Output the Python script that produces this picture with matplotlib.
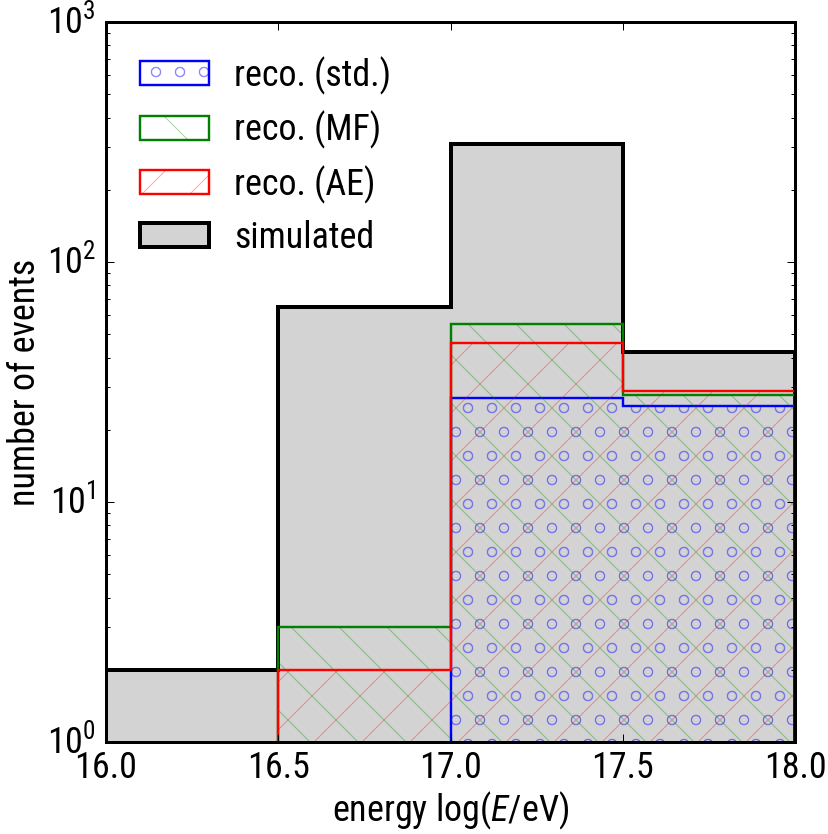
import numpy as np
import matplotlib
matplotlib.use('Agg')
from matplotlib import pyplot as plt
from matplotlib import font_manager

# bin edges in log10(E/eV)
edges = [16.0, 16.5, 17.0, 17.5, 18.0]

# number of events per bin
simulated = [2, 65, 310, 42]
reco_std = [0, 0, 27, 25]
reco_mf = [0, 3, 55, 28]
reco_ae = [0, 2, 46, 29]

# pick a narrow sans font that is actually there
fam = 'DejaVu Sans'
for cand in ['Liberation Sans Narrow', 'DejaVu Sans Condensed', 'Roboto Condensed', 'Roboto']:
    try:
        font_manager.findfont(cand, fallback_to_default=False)
        fam = cand
        break
    except ValueError:
        pass

# italic face for the E in the axis label
it_fam = fam
f = font_manager.findfont(font_manager.FontProperties(family=fam, style='italic'))
if 'italic' not in f.lower():
    it_fam = 'Roboto'

plt.style.use('classic')
plt.rcParams['font.family'] = [fam, 'DejaVu Sans']
plt.rcParams['mathtext.fontset'] = 'custom'
plt.rcParams['mathtext.rm'] = fam
plt.rcParams['mathtext.it'] = it_fam + ':italic'
plt.rcParams['mathtext.default'] = 'rm'
plt.rcParams['hatch.linewidth'] = 0.5
plt.rcParams['figure.facecolor'] = 'white'
plt.rcParams['savefig.facecolor'] = 'white'

fs = 18

fig = plt.figure(figsize=(828 / 144, 834 / 144), dpi=144)
ax = fig.add_axes([106 / 828, 1 - 742 / 834, 689 / 828, 720 / 834])
ax.set_yscale('log')

edges = np.array(edges)
ax.stairs(simulated, edges, fill=True, baseline=0.1,
          facecolor='lightgray', edgecolor='black', linewidth=2)

recos = [(reco_std, 'blue', 'o', 'reco. (std.)'),
         (reco_mf, 'green', '\\', 'reco. (MF)'),
         (reco_ae, 'red', '/', 'reco. (AE)')]

handles = []
labels = []
for vals, col, hat, lab in recos:
    faint = matplotlib.colors.to_rgba(col, 0.35)
    ax.stairs(vals, edges, fill=True, baseline=1e-3, facecolor='none',
              edgecolor=faint, hatch=hat, linewidth=0)
    ax.stairs(vals, edges, fill=False, baseline=1e-3, color=col, linewidth=1.2)
    h1 = matplotlib.patches.Rectangle((0, 0), 1, 1, facecolor='none',
                                      edgecolor=faint, hatch=hat, linewidth=0)
    h2 = matplotlib.patches.Rectangle((0, 0), 1, 1, facecolor='none',
                                      edgecolor=col, linewidth=1.2)
    handles.append((h1, h2))
    labels.append(lab)
handles.append(matplotlib.patches.Rectangle((0, 0), 1, 1, facecolor='lightgray',
                                            edgecolor='black', linewidth=2))
labels.append('simulated')

ax.set_xlim(16, 18)
ax.set_ylim(1, 1000)
for s in ax.spines.values():
    s.set_linewidth(1.5)
ax.tick_params(labelsize=fs, direction='in', top=True, right=True)
ax.set_xticks([16.0, 16.5, 17.0, 17.5, 18.0])
ax.set_xticklabels(['16.0', '16.5', '17.0', '17.5', '18.0'])
ax.tick_params(axis='x', pad=4)
ax.tick_params(axis='y', pad=5)
ax.set_xlabel(r'energy $\log(\mathit{E}/\mathrm{eV})$', fontsize=fs, labelpad=2)
ax.set_ylabel('number of events', fontsize=fs, labelpad=2)

ax.legend(handles, labels, loc='upper left', frameon=False, fontsize=fs,
          handlelength=1.9, handleheight=0.65, labelspacing=0.45,
          borderaxespad=0.5, handletextpad=0.7, borderpad=0.45)

fig.savefig('out.png', dpi=144)
